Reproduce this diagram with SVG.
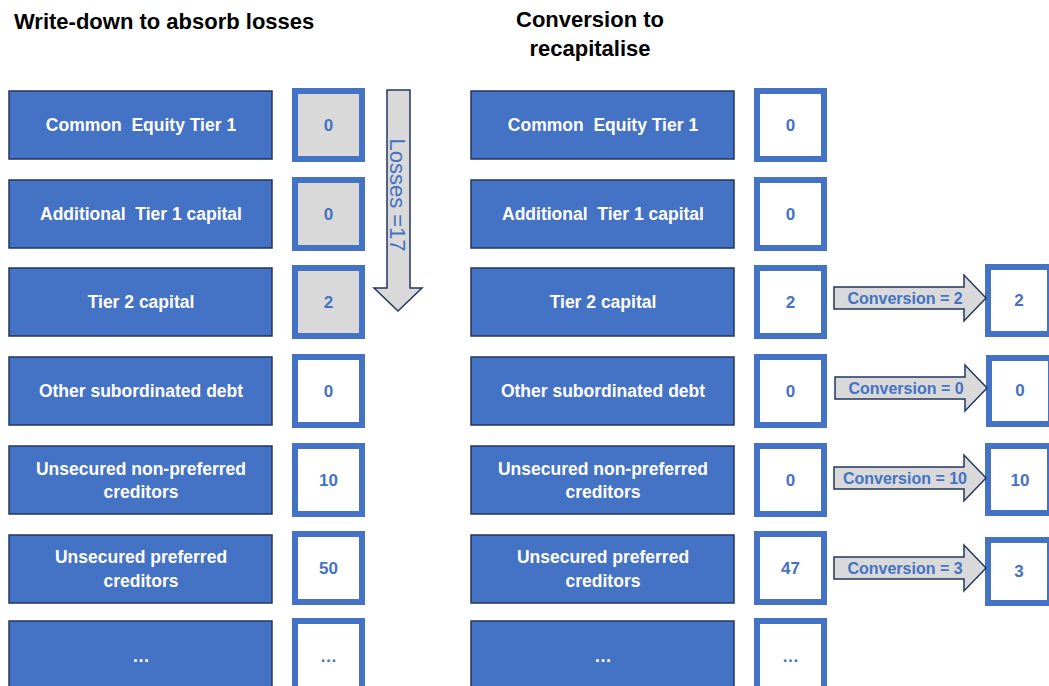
<svg xmlns="http://www.w3.org/2000/svg" width="1049" height="686" viewBox="0 0 1049 686">
<style>
.title{font-family:"Liberation Sans",Arial,sans-serif;font-weight:bold;font-size:22px;fill:#000}
.blk{fill:#4472C4;stroke:#22365F;stroke-width:1.5}
.lbl{font-family:"Liberation Sans",Arial,sans-serif;font-weight:bold;font-size:17.5px;fill:#fff;text-anchor:middle;white-space:pre}
.val{fill:#fff;stroke:#4472C4;stroke-width:6}
.valg{fill:#D9D9D9;stroke:#4472C4;stroke-width:6}
.vt{font-family:"Liberation Sans",Arial,sans-serif;font-weight:bold;font-size:17px;fill:#4472C4;text-anchor:middle}
.arr{fill:#D9D9D9;stroke:#22365F;stroke-width:1.5;stroke-linejoin:miter}
.at{font-family:"Liberation Sans",Arial,sans-serif;font-weight:bold;font-size:16px;fill:#4472C4;text-anchor:middle}
</style>
<rect width="1049" height="686" fill="#fff"/>
<g id="titles">
<text class="title" x="14" y="29">Write-down to absorb losses</text>
<text class="title" x="590" y="27" text-anchor="middle">Conversion to</text>
<text class="title" x="590" y="56" text-anchor="middle">recapitalise</text>
</g>
<!-- Left column -->
<g id="l-cet1"><rect class="blk" x="9" y="91" width="263" height="68"/><text class="lbl" x="141" y="131">Common  Equity Tier 1</text></g>
<g id="l-cet1-v"><rect class="valg" x="295" y="91" width="67" height="68"/><text class="vt" x="328.5" y="131">0</text></g>
<g id="l-at1"><rect class="blk" x="9" y="180" width="263" height="68"/><text class="lbl" x="141" y="220">Additional  Tier 1 capital</text></g>
<g id="l-at1-v"><rect class="valg" x="295" y="180" width="67" height="68"/><text class="vt" x="328.5" y="220">0</text></g>
<g id="l-t2"><rect class="blk" x="9" y="268" width="263" height="68"/><text class="lbl" x="141" y="308">Tier 2 capital</text></g>
<g id="l-t2-v"><rect class="valg" x="295" y="268" width="67" height="68"/><text class="vt" x="328.5" y="308">2</text></g>
<g id="l-osd"><rect class="blk" x="9" y="357" width="263" height="68"/><text class="lbl" x="141" y="397">Other subordinated debt</text></g>
<g id="l-osd-v"><rect class="val" x="295" y="357" width="67" height="68"/><text class="vt" x="328.5" y="397">0</text></g>
<g id="l-unp"><rect class="blk" x="9" y="446" width="263" height="68"/><text class="lbl" x="141" y="475">Unsecured non-preferred</text><text class="lbl" x="141" y="498">creditors</text></g>
<g id="l-unp-v"><rect class="val" x="295" y="446" width="67" height="68"/><text class="vt" x="328.5" y="486">10</text></g>
<g id="l-up"><rect class="blk" x="9" y="535" width="263" height="68"/><text class="lbl" x="141" y="563">Unsecured preferred</text><text class="lbl" x="141" y="587">creditors</text></g>
<g id="l-up-v"><rect class="val" x="295" y="534" width="67" height="68"/><text class="vt" x="328.5" y="574">50</text></g>
<g id="l-more"><rect class="blk" x="9" y="621" width="263" height="80"/><text class="lbl" x="141" y="662">…</text></g>
<g id="l-more-v"><rect class="val" x="295" y="621" width="67" height="80"/><text class="vt" x="328.5" y="662">…</text></g>
<!-- Right column -->
<g id="r-cet1"><rect class="blk" x="471" y="91" width="263" height="68"/><text class="lbl" x="603" y="131">Common  Equity Tier 1</text></g>
<g id="r-cet1-v"><rect class="val" x="757" y="91" width="67" height="68"/><text class="vt" x="790.5" y="131">0</text></g>
<g id="r-at1"><rect class="blk" x="471" y="180" width="263" height="68"/><text class="lbl" x="603" y="220">Additional  Tier 1 capital</text></g>
<g id="r-at1-v"><rect class="val" x="757" y="180" width="67" height="68"/><text class="vt" x="790.5" y="220">0</text></g>
<g id="r-t2"><rect class="blk" x="471" y="268" width="263" height="68"/><text class="lbl" x="603" y="308">Tier 2 capital</text></g>
<g id="r-t2-v"><rect class="val" x="757" y="268" width="67" height="68"/><text class="vt" x="790.5" y="308">2</text></g>
<g id="r-osd"><rect class="blk" x="471" y="357" width="263" height="68"/><text class="lbl" x="603" y="397">Other subordinated debt</text></g>
<g id="r-osd-v"><rect class="val" x="757" y="357" width="67" height="68"/><text class="vt" x="790.5" y="397">0</text></g>
<g id="r-unp"><rect class="blk" x="471" y="446" width="263" height="68"/><text class="lbl" x="603" y="475">Unsecured non-preferred</text><text class="lbl" x="603" y="498">creditors</text></g>
<g id="r-unp-v"><rect class="val" x="757" y="446" width="67" height="68"/><text class="vt" x="790.5" y="486">0</text></g>
<g id="r-up"><rect class="blk" x="471" y="535" width="263" height="68"/><text class="lbl" x="603" y="563">Unsecured preferred</text><text class="lbl" x="603" y="587">creditors</text></g>
<g id="r-up-v"><rect class="val" x="757" y="534" width="67" height="68"/><text class="vt" x="790.5" y="574">47</text></g>
<g id="r-more"><rect class="blk" x="471" y="621" width="263" height="80"/><text class="lbl" x="603" y="662">…</text></g>
<g id="r-more-v"><rect class="val" x="757" y="621" width="67" height="80"/><text class="vt" x="790.5" y="662">…</text></g>
<!-- Far right -->
<g id="c-t2"><rect class="val" x="988" y="267" width="62" height="67"/><text class="vt" x="1019" y="306">2</text></g>
<g id="c-osd"><rect class="val" x="989" y="358" width="62" height="66"/><text class="vt" x="1020" y="396">0</text></g>
<g id="c-unp"><rect class="val" x="988" y="446" width="62" height="67"/><text class="vt" x="1020" y="486">10</text></g>
<g id="c-up"><rect class="val" x="988" y="540" width="62" height="63"/><text class="vt" x="1019" y="577">3</text></g>
<!-- Arrows -->
<g id="connectors">
<g id="loss-arrow">
<polygon class="arr" points="387,90 410,90 410,288 422,288 398,311 374,288 387,288"/>
<text transform="translate(398,195) rotate(90)" font-family="Liberation Sans,Arial,sans-serif" font-size="22" fill="#4472C4" text-anchor="middle" dy="8">Losses =17</text>
</g>
<g id="conv-t2"><polygon class="arr" points="834,287 964,287 964,275 986,298 964,321 964,309 834,309"/><text class="at" x="905" y="304">Conversion = 2</text></g>
<g id="conv-osd"><polygon class="arr" points="835,377 965,377 965,365 987,388 965,411 965,399 835,399"/><text class="at" x="906" y="394">Conversion = 0</text></g>
<g id="conv-unp"><polygon class="arr" points="834,467 964,467 964,455 986,478 964,501 964,489 834,489"/><text class="at" x="905" y="484">Conversion = 10</text></g>
<g id="conv-up"><polygon class="arr" points="834,557 964,557 964,545 986,568 964,591 964,579 834,579"/><text class="at" x="905" y="574">Conversion = 3</text></g>
</g>
</svg>
